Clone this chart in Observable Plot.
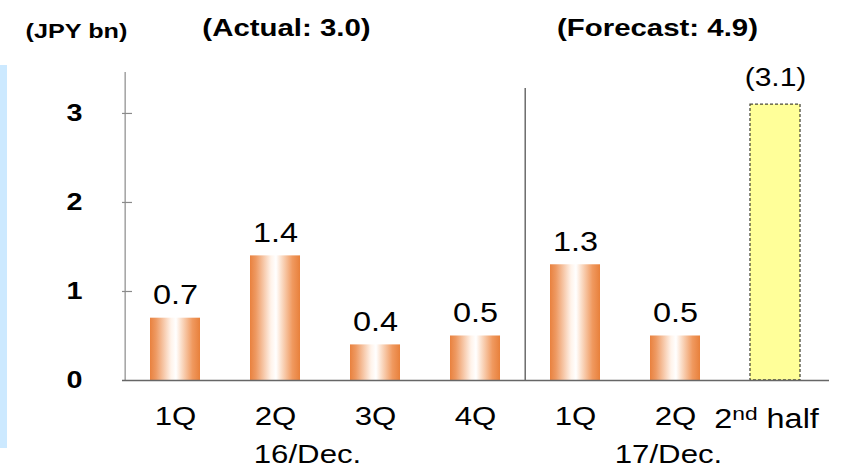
<!DOCTYPE html>
<html>
<head>
<meta charset="utf-8">
<script src="https://cdn.jsdelivr.net/npm/d3@7"></script>
<script src="https://cdn.jsdelivr.net/npm/@observablehq/plot@0.6"></script>
<style>
  body { margin: 0; background: #fff; }
  #chart { position: relative; width: 841px; height: 468px; overflow: hidden; }
  #strip { position: absolute; left: 0; top: 65px; width: 7px; height: 383px; background: #cce9ff; }
  #chart svg { position: absolute; left: 0; top: 0; }
</style>
</head>
<body>
<div id="chart"><div id="strip"></div></div>
<script>
// Quarterly figures (JPY bn)
const quarters = ["1Q", "2Q", "3Q", "4Q", "1Q", "2Q", "2nd half"];
const periodOf = ["16/Dec.", "16/Dec.", "16/Dec.", "16/Dec.", "17/Dec.", "17/Dec.", "17/Dec."];
const profit   = [0.7, 1.4, 0.4, 0.5, 1.3, 0.5, 3.1];
const status   = ["actual", "actual", "actual", "actual", "actual", "actual", "forecast"];
const yTicks   = [0, 1, 2, 3];
const periodLabels = ["16/Dec.", "17/Dec."];
const totals   = ["(Actual: 3.0)", "(Forecast: 4.9)"];
const unitLabel = "(JPY bn)";

const rows = quarters.map((q, i) => ({
  key: periodOf[i] + " " + q,
  quarter: q,
  period: periodOf[i],
  value: profit[i],
  status: status[i]
}));
const keys = rows.map(d => d.key);
const actual = rows.filter(d => d.status === "actual");
const forecast = rows.filter(d => d.status === "forecast");

const W = 841, H = 468, mL = 122, mR = 14, mT = 72, mB = 88;
const frameW = W - mL - mR;
const padIn = 0.5, padOut = 0.25;
const step = frameW / (keys.length - padIn + 2 * padOut);
const font = "'Liberation Sans', Arial, Helvetica, sans-serif";

const svg = Plot.plot({
  width: W,
  height: H,
  marginLeft: mL,
  marginRight: mR,
  marginTop: mT,
  marginBottom: mB,
  style: { fontFamily: font, color: "#000", background: "transparent", overflow: "visible" },
  x: { type: "band", domain: keys, paddingInner: padIn, paddingOuter: padOut, axis: null },
  y: { domain: [0, 3.46], axis: null },
  marks: [
    // value axis line and inner tick marks
    Plot.ruleX([keys[0]], { dx: -step / 2, stroke: "#8a8a8a", strokeWidth: 1.2 }),
    Plot.ruleY(yTicks.filter(v => v > 0), { insetRight: frameW - 10, stroke: "#8a8a8a", strokeWidth: 1.2 }),
    Plot.axisY({ ticks: yTicks, label: null, tickSize: 0, tickPadding: 40, fontSize: 24, fontWeight: "bold", tickFormat: d3.format("d") }),
    // divider between the two fiscal years
    Plot.ruleX([keys[4]], { dx: -step / 2, insetTop: 16, stroke: "#222", strokeWidth: 1 }),
    // bars
    Plot.barY(actual, { x: "key", y: "value", fill: "url(#barShade)" }),
    Plot.barY(forecast, { x: "key", y: "value", fill: "#ffff99", stroke: "#4a4a3a", strokeWidth: 1.3, strokeDasharray: "3,2" }),
    Plot.ruleY([0], { stroke: "#666", strokeWidth: 1.3, insetRight: -2 }),
    // value labels
    Plot.text(actual, { x: "key", y: "value", text: d => d.value.toFixed(1), lineAnchor: "bottom", dy: -14, fontSize: 27 }),
    Plot.text(forecast, { x: "key", y: "value", text: d => `(${d.value.toFixed(1)})`, lineAnchor: "bottom", dy: -19, fontSize: 25 }),
    // category labels
    Plot.text(actual, { x: "key", text: "quarter", frameAnchor: "bottom", lineAnchor: "bottom", dy: 44, fontSize: 26 }),
    Plot.text(forecast, { x: "key", text: "quarter", frameAnchor: "bottom", lineAnchor: "bottom", dy: 47, dx: -9, fontSize: 27 }),
    // fiscal year labels
    Plot.text([periodLabels[0]], { x: () => keys[1], text: d => d, frameAnchor: "bottom", lineAnchor: "bottom", dy: 82, dx: 32, fontSize: 26 }),
    Plot.text([periodLabels[1]], { x: () => keys[5], text: d => d, frameAnchor: "bottom", lineAnchor: "bottom", dy: 82, dx: -7, fontSize: 26 }),
    // headings
    Plot.text([unitLabel], { x: () => keys[0], text: d => d, frameAnchor: "top", lineAnchor: "bottom", dy: -35, dx: -99, fontSize: 21, fontWeight: "bold" }),
    Plot.text([totals[0]], { x: () => keys[1], text: d => d, frameAnchor: "top", lineAnchor: "bottom", dy: -37, dx: 11, fontSize: 24.5, fontWeight: "bold" }),
    Plot.text([totals[1]], { x: () => keys[5], text: d => d, frameAnchor: "top", lineAnchor: "bottom", dy: -37, dx: -18, fontSize: 24.5, fontWeight: "bold" })
  ]
});

// horizontal shading for the actual bars
const defs = d3.select(svg).insert("defs", ":first-child");
const grad = defs.append("linearGradient").attr("id", "barShade")
  .attr("x1", 0).attr("x2", 1).attr("y1", 0).attr("y2", 0);
[[0, "#e9813e"], [0.12, "#ee9a63"], [0.42, "#fff3ea"], [0.52, "#ffffff"],
 [0.62, "#fbe0cc"], [0.85, "#f0995f"], [1, "#e8803b"]]
  .forEach(([o, c]) => grad.append("stop").attr("offset", o).attr("stop-color", c));

document.getElementById("chart").append(svg);

// superscript ordinal in "2nd half"
d3.select(svg).selectAll("text").each(function () {
  if (this.textContent === "2nd half") {
    const t = d3.select(this);
    t.text(null);
    t.append("tspan").text("2");
    t.append("tspan").attr("font-size", 19).attr("dy", -8).text("nd");
    t.append("tspan").attr("dy", 8).text(" half");
  }
});

// widen the lettering slightly
d3.select(svg).selectAll("text").each(function () {
  const len = this.getComputedTextLength();
  if (len > 0) {
    this.setAttribute("textLength", (len * 1.2).toFixed(1));
    this.setAttribute("lengthAdjust", "spacingAndGlyphs");
  }
});
</script>
</body>
</html>
